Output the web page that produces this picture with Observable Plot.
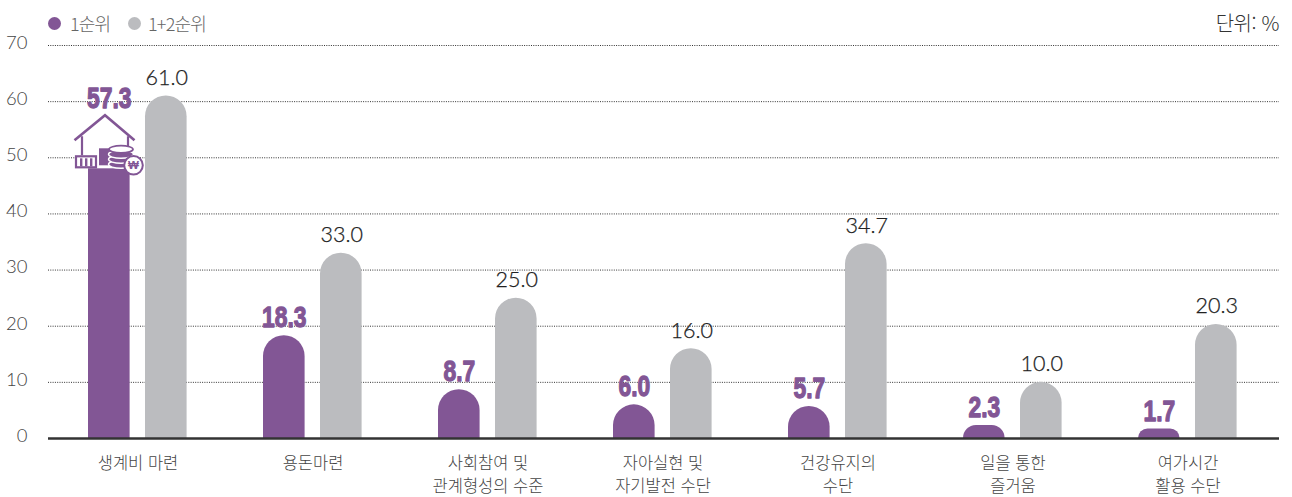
<!DOCTYPE html>
<html lang="ko"><head><meta charset="utf-8">
<script src="https://cdn.jsdelivr.net/npm/d3@7"></script>
<script src="https://cdn.jsdelivr.net/npm/@observablehq/plot@0.6"></script>
<style>
html,body{margin:0;padding:0;background:#fff;overflow:hidden}
#head{position:relative;height:36px;font-family:"Noto Sans CJK KR",sans-serif;font-weight:300;color:#555;font-size:18px;letter-spacing:-.8px}
#head span{position:absolute;top:11px;line-height:24px;white-space:nowrap}
#head i{position:absolute;top:17px;width:13px;height:13px;border-radius:50%}
svg{display:block}
</style></head><body>
<div id="head"></div>
<div id="chart"></div>
<script>
const categories = ["생계비 마련","용돈마련","사회참여 및\n관계형성의 수준","자아실현 및\n자기발전 수단","건강유지의\n수단","일을 통한\n즐거움","여가시간\n활용 수단"];
const first = [57.3,18.3,8.7,6.0,5.7,2.3,1.7];
const firstSecond = [61.0,33.0,25.0,16.0,34.7,10.0,20.3];
const seriesNames = ["1순위","1+2순위"];
const colors = ["#825695","#BBBCBF"];
const yTicks = [0,10,20,30,40,50,60,70];
const unitLabel = "단위: %";

const head = document.getElementById("head");
[[48,70,0],[128,148,1]].forEach(([a,b,i])=>{
  const d=document.createElement("i");d.style.left=a+"px";d.style.background=colors[i];head.append(d);
  const s=document.createElement("span");s.style.left=b+"px";s.textContent=seriesNames[i];s.style.color="#666";head.append(s);
});
const u=document.createElement("span");u.style.right="13px";u.style.fontSize="20px";u.style.letterSpacing="-.4px";u.style.color="#333";u.textContent=unitLabel;head.append(u);

const rows1 = categories.map((c,i)=>({c,v:first[i]}));
const rows2 = categories.map((c,i)=>({c,v:firstSecond[i]}));
const num = d=>d.toFixed(1);
const kr = '"Noto Sans CJK KR",sans-serif';

function houseIcon(index,{x,y}){
  const g=d3.create("svg:g");
  const cx=x(categories[0])+x.bandwidth()/2, top=y(first[0]);
  const t=g.append("g").attr("transform",`translate(${cx-46.5},${top-2})`);
  const P=colors[0];
  t.append("rect").attr("x",-6).attr("y",0).attr("width",46).attr("height",54).attr("fill","#fff");
  t.append("path").attr("d","M-16.5 26L14 1L43.5 26").attr("fill","none").attr("stroke",P).attr("stroke-width",2.6);
  t.append("path").attr("d","M-9 22V41M37 22V34").attr("fill","none").attr("stroke",P).attr("stroke-width",2.2);
  t.append("rect").attr("x",-15).attr("y",42).attr("width",20).attr("height",11).attr("fill","#fff").attr("stroke",P).attr("stroke-width",2.2);
  [-11,-6,-1].forEach(a=>t.append("rect").attr("x",a).attr("y",44).attr("width",2.4).attr("height",8).attr("fill",P));
  t.append("rect").attr("x",8).attr("y",34).attr("width",12).attr("height",17).attr("fill",P);
  [50,45,40].forEach(yy=>{
    t.append("ellipse").attr("cx",30).attr("cy",yy).attr("rx",12.5).attr("ry",4).attr("fill",P).attr("stroke","#fff").attr("stroke-width",1.4);
  });
  t.append("ellipse").attr("cx",30).attr("cy",35).attr("rx",12).attr("ry",3.6).attr("fill","#fff").attr("stroke",P).attr("stroke-width",1.8);
  t.append("circle").attr("cx",42.5).attr("cy",51).attr("r",9.3).attr("fill","#fff").attr("stroke",P).attr("stroke-width",2);
  t.append("text").attr("x",42.5).attr("y",55).attr("text-anchor","middle").attr("font-family","Liberation Sans").attr("font-weight",700).attr("font-size",11.5).attr("fill",P).text("₩");
  return g.node();
}

const plot = Plot.plot({
  width:1292, height:461, marginLeft:48, marginRight:13, marginTop:9, marginBottom:59,
  style:{background:"#fff",overflow:"visible"},
  x:{domain:categories,range:[48,1276],padding:0,axis:null},
  y:{domain:[0,70],range:[402,9],axis:null},
  marks:[
    Plot.gridY(yTicks,{stroke:"#333",strokeOpacity:1,strokeWidth:1,strokeDasharray:"1 1.3"}),
    Plot.axisY(yTicks,{anchor:"left",tickSize:0,tickPadding:21,fontSize:18.5,fontWeight:300,fontFamily:"Lato",fill:"#444",dy:-2.5,label:null}),
    Plot.barY(rows1,{x:"c",y:"v",fill:colors[0],insetLeft:38,insetRight:95.4,ry1:21}),
    Plot.barY(rows2,{x:"c",y:"v",fill:colors[1],insetLeft:95,insetRight:38.4,ry1:21}),
    houseIcon,
    Plot.ruleY([0],{stroke:"#333",strokeWidth:2.4}),
    Plot.text(rows1,{x:"c",y:"v",text:d=>num(d.v),dx:-28.7,dy:-18,fill:colors[0],stroke:colors[0],strokeWidth:1.3,fontSize:30,fontWeight:700,fontFamily:"Liberation Sans",className:"hl"}),
    Plot.text(rows2,{x:"c",y:"v",text:d=>num(d.v),dx:28.7,dy:-18,fill:"#222",stroke:"#222",strokeWidth:.25,fontSize:21.5,fontWeight:300,fontFamily:"Lato",letterSpacing:"-.7px"}),
    Plot.axisX(categories,{anchor:"bottom",tickSize:0,tickPadding:15,fontSize:16.5,fontWeight:300,fontFamily:kr,fill:"#444",lineHeight:1.36,label:null,lineAnchor:"top",letterSpacing:"-.3px"})
  ]
});
document.getElementById("chart").append(plot);
plot.querySelectorAll(".hl text, g.hl text").forEach(t=>{
  t.setAttribute("textLength",(t.getComputedTextLength()*0.76).toFixed(1));
  t.setAttribute("lengthAdjust","spacingAndGlyphs");
});
</script></body></html>
